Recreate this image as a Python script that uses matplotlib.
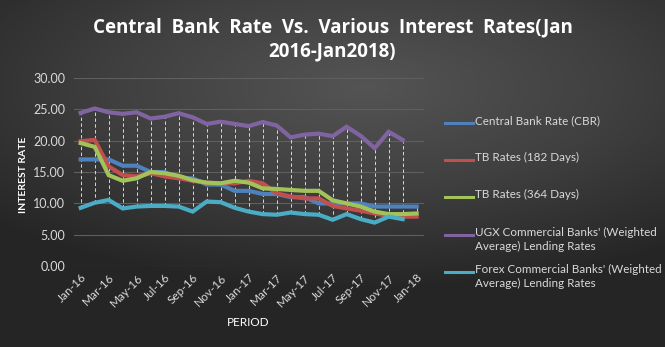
import numpy as np
import matplotlib
matplotlib.use('Agg')
import matplotlib.pyplot as plt
from matplotlib.lines import Line2D

# 数据 (Jan-16 .. Jan-18)
months = ['Jan-16', 'Feb-16', 'Mar-16', 'Apr-16', 'May-16', 'Jun-16', 'Jul-16', 'Aug-16',
          'Sep-16', 'Oct-16', 'Nov-16', 'Dec-16', 'Jan-17', 'Feb-17', 'Mar-17', 'Apr-17',
          'May-17', 'Jun-17', 'Jul-17', 'Aug-17', 'Sep-17', 'Oct-17', 'Nov-17', 'Dec-17',
          'Jan-18']
cbr = [17, 17, 17, 16, 16, 15, 15, 14, 14, 13, 13, 12, 12, 11.5, 11.5, 11, 11, 10, 10, 10,
       10, 9.5, 9.5, 9.5, 9.5]
tb182 = [19.9, 20.1, 15.9, 14.5, 14.3, 14.8, 14.3, 14.0, 13.6, 13.3, 13.2, 13.2, 13.6, 13.2,
         11.6, 11.1, 10.8, 10.8, 9.6, 9.2, 8.85, 8.4, 8.0, 7.9, 7.9]
tb364 = [19.6, 19.0, 14.5, 13.6, 14.0, 15.0, 14.8, 14.4, 13.7, 13.3, 13.2, 13.6, 13.3, 12.4,
         12.3, 12.15, 12.0, 12.0, 10.5, 10.0, 9.5, 8.7, 8.3, 8.3, 8.4]
ugx = [24.4, 25.1, 24.5, 24.25, 24.5, 23.5, 23.8, 24.35, 23.7, 22.65, 23.0, 22.65, 22.3, 22.95,
       22.4, 20.5, 20.95, 21.1, 20.7, 22.2, 20.75, 18.8, 21.4, 20.1, None]
forex = [9.3, 10.1, 10.55, 9.2, 9.5, 9.6, 9.6, 9.5, 8.7, 10.3, 10.2, 9.3, 8.7, 8.3, 8.2, 8.55,
         8.3, 8.2, 7.4, 8.3, 7.5, 6.95, 7.9, 7.5, None]

names = ['Central Bank Rate (CBR)', 'TB Rates (182 Days)', 'TB Rates (364 Days)',
         "UGX Commercial Banks' (Weighted\nAverage) Lending Rates",
         "Forex Commercial Banks' (Weighted\nAverage) Lending Rates"]
colors = ['#4f81bd', '#c0504d', '#a2c35a', '#8064a2', '#4bacc6']
series = [cbr, tb182, tb364, ugx, forex]

txt = '#d9d9d9'
plt.rcParams['font.family'] = ['Lato', 'DejaVu Sans']

fig = plt.figure(figsize=(6.65, 3.47), dpi=100)

# 背景渐变
bg = fig.add_axes([0, 0, 1, 1], zorder=-10)
yy, xx = np.mgrid[0:1:347j, 0:1:665j]
r = np.sqrt(((xx - 0.55) * 1.0) ** 2 + ((yy - 0.25) * 1.3) ** 2)
bg.imshow(r, cmap=matplotlib.colors.LinearSegmentedColormap.from_list('g', ['#545454', '#404040', '#262626']),
          aspect='auto', extent=[0, 1, 0, 1], vmin=0, vmax=0.75)
bg.axis('off')

ax = fig.add_axes([0.1108, 0.2326, 0.5263, 0.5435])
ax.patch.set_alpha(0)
x = np.arange(len(months))

arr = np.array([[np.nan if v is None else v for v in s] for s in series], dtype=float)
hi = np.nanmax(arr, axis=0)
lo = np.nanmin(arr, axis=0)
ax.vlines(x, lo, hi, colors='#d8d8d8', linestyles=(0, (3.5, 2.5)), lw=0.7, zorder=2)

for s, c in zip(arr, colors):
    ax.plot(x, s, color=c, lw=3.0, solid_joinstyle='miter', zorder=3)

ax.set_xlim(-0.5, len(months) - 0.5)
ax.set_ylim(0, 30)
ax.set_yticks(np.arange(0, 31, 5))
ax.set_yticklabels([f'{v:.2f}' for v in np.arange(0, 31, 5)])
ax.set_xticks(x[::2])
ax.set_xticklabels(months[::2], rotation=45, ha='right', rotation_mode='anchor')
ax.tick_params(colors=txt, labelsize=9, length=0, pad=6)
ax.tick_params(axis='x', labelsize=8.5, pad=4)
ax.grid(axis='y', color='#5f5f5f', lw=0.8)
for sp in ax.spines.values():
    sp.set_visible(False)

fig.text(0.035, 0.496, 'INTEREST RATE', rotation=90, color='white', fontsize=7.5,
         fontweight='bold', ha='center', va='center')
fig.text(0.373, 0.072, 'PERIOD', color='white', fontsize=8.5, ha='center', va='center')

fig.text(0.5, 0.922, 'Central  Bank  Rate  Vs.  Various  Interest  Rates(Jan', color='white',
         fontsize=13.5, fontweight='bold', ha='center', va='center', family='Open Sans')
fig.text(0.5, 0.852, '2016-Jan2018)', color='white', fontsize=13.5, fontweight='bold',
         ha='center', va='center', family='Open Sans')

# 图例
leg_y = [0.645, 0.539, 0.432, 0.323, 0.216]
for name, c, ly in zip(names, colors, leg_y):
    fig.add_artist(Line2D([0.669, 0.712], [ly, ly], color=c, lw=2.2, transform=fig.transFigure))
    fig.text(0.714, ly + 0.023, name, color=txt, fontsize=8.4, ha='left', va='top', linespacing=1.3)

fig.savefig('out.png', dpi=100)
